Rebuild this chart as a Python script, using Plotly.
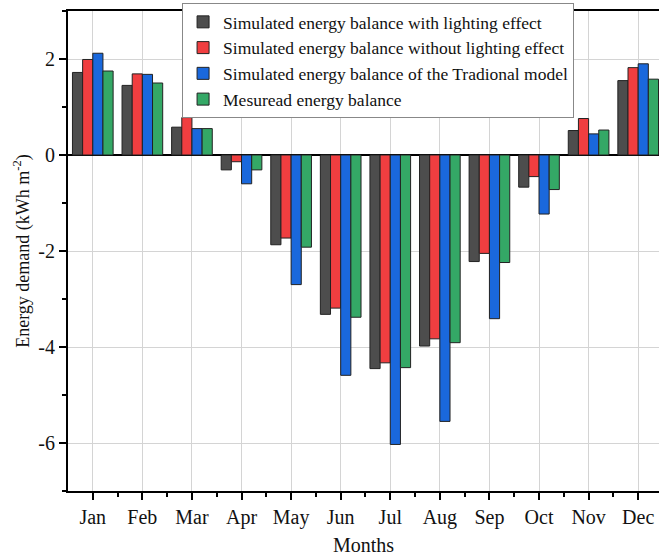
import plotly.graph_objects as go

months = ['Jan', 'Feb', 'Mar', 'Apr', 'May', 'Jun',
          'Jul', 'Aug', 'Sep', 'Oct', 'Nov', 'Dec']

with_lighting    = [1.72, 1.45, 0.58, -0.31, -1.87, -3.32, -4.45, -3.98, -2.22, -0.67, 0.51, 1.55]
without_lighting = [1.99, 1.69, 0.78, -0.14, -1.73, -3.19, -4.33, -3.83, -2.05, -0.45, 0.76, 1.82]
traditional      = [2.12, 1.68, 0.55, -0.60, -2.70, -4.59, -6.03, -5.55, -3.41, -1.23, 0.44, 1.90]
measured         = [1.75, 1.50, 0.55, -0.31, -1.92, -3.38, -4.43, -3.91, -2.24, -0.72, 0.52, 1.58]

y_ticks = [-6, -4, -2, 0, 2]
y_ticklabels = ['-6', '-4', '-2', '0', '2']

series = [
    ('Simulated energy balance with lighting effect', with_lighting, '#4d4d4d'),
    ('Simulated energy balance without lighting effect', without_lighting, '#f03e40'),
    ('Simulated energy balance of the Tradional model', traditional, '#1a68dc'),
    ('Mesuread energy balance', measured, '#34a866'),
]

FONT = 'Liberation Serif, Times New Roman, serif'

fig = go.Figure()
for name, vals, color in series:
    fig.add_trace(go.Bar(
        name=name, x=list(range(len(months))), y=vals,
        marker=dict(color=color, line=dict(color='#222222', width=1)),
    ))

fig.update_layout(
    width=659, height=558,
    margin=dict(l=68, r=0, t=11, b=67),
    paper_bgcolor='white', plot_bgcolor='white',
    font=dict(family=FONT, size=20, color='#111111'),
    barmode='group', bargap=0.18, bargroupgap=0,
    showlegend=True,
    legend=dict(
        x=0.193, y=1.0167, xanchor='left', yanchor='top',
        bgcolor='white', bordercolor='#888888', borderwidth=1,
        font=dict(family=FONT, size=17.5, color='#111111'),
        tracegroupgap=0, itemwidth=30,
    ),
)

fig.update_xaxes(
    range=[-0.5, 11.42], automargin=False,
    tickvals=list(range(len(months))), ticktext=months,
    showgrid=True, gridcolor='#d4d4d4', gridwidth=1,
    showline=True, linecolor='black', linewidth=2, mirror=True,
    ticks='outside', ticklen=7, tickwidth=2, tickcolor='black',
    minor=dict(tickvals=[i + 0.5 for i in range(len(months))],
               ticks='outside', ticklen=4, tickwidth=2, tickcolor='black'),
    zeroline=False,
    title=dict(text='Months', font=dict(size=20), standoff=10),
    tickfont=dict(size=20),
)

fig.update_yaxes(
    range=[-7, 3], automargin=False,
    tickvals=y_ticks, ticktext=y_ticklabels,
    showgrid=True, gridcolor='#d4d4d4', gridwidth=1,
    showline=True, linecolor='black', linewidth=2,
    ticks='outside', ticklen=7, tickwidth=2, tickcolor='black',
    minor=dict(tickvals=[-7, -5, -3, -1, 1, 3],
               ticks='outside', ticklen=4, tickwidth=2, tickcolor='black'),
    zeroline=True, zerolinecolor='black', zerolinewidth=2,
    title=dict(text='Energy demand (kWh m<sup>-2</sup>)', font=dict(size=18), standoff=4),
    tickfont=dict(size=20),
)

fig.write_html('out.html', config={'displayModeBar': False},
               post_script="document.body.style.margin='0';")
